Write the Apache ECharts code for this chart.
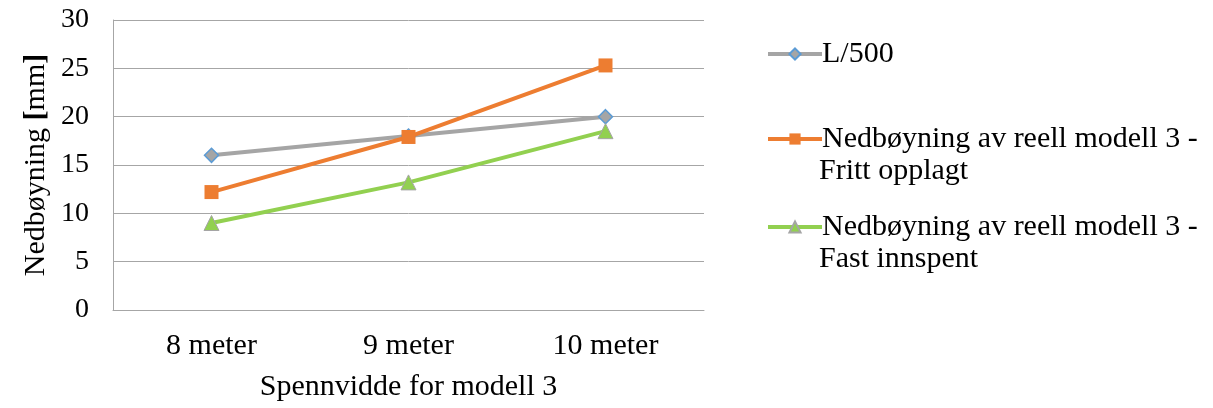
<!DOCTYPE html>
<html><head><meta charset="utf-8">
<script src="https://cdn.jsdelivr.net/npm/echarts@6/dist/echarts.min.js"></script>
<style>html,body{margin:0;padding:0;background:#fff}#c{width:1213px;height:408px}</style>
</head><body><div id="c"></div>
<script>
const categories = ['8 meter', '9 meter', '10 meter'];
const seriesNames = ['L/500', 'Nedbøyning av reell modell 3 - Fritt opplagt', 'Nedbøyning av reell modell 3 - Fast innspent'];
const legendFirstLines = ['L/500', 'Nedbøyning av reell modell 3 -', 'Nedbøyning av reell modell 3 -'];
const legendSecondLines = ['', 'Fritt opplagt', 'Fast innspent'];
const l500 = [16, 18, 20];
const frittOpplagt = [12.2, 17.9, 25.3];
const fastInnspent = [9.0, 13.2, 18.5];
const yTicks = { min: 0, max: 30, interval: 5 };
const xAxisTitle = 'Spennvidde for modell 3';
const yAxisTitle = 'Nedbøyning [mm]';

const FONT = '"Liberation Serif", "DejaVu Serif", serif';
const FS = 30;
const chart = echarts.init(document.getElementById('c'), null, { renderer: 'canvas' });
const legendTops = [34, 119, 207];
const colors = ['#a5a5a5', '#ed7d31', '#92d050'];
const legends = seriesNames.map((n, i) => ({
  data: [n], left: 761, top: legendTops[i], orient: 'vertical',
  itemWidth: 54, itemHeight: 14, itemGap: 0,
  lineStyle: { width: 4, color: colors[i] },
  textStyle: { fontFamily: FONT, fontSize: FS, color: '#000', padding: [0, 0, 0, -5] },
  formatter: () => legendFirstLines[i], selectedMode: false
}));
const graphics = legendSecondLines.map((t, i) => t ? ({
  type: 'text', left: 819, top: legendTops[i] + 37,
  style: { text: t, font: FS + 'px ' + FONT, fill: '#000' }
}) : null).filter(Boolean);
const yName = yAxisTitle.replace(/^(.*) \[(.*)\]$/, '{n|$1 }{b|[}{n|$2}{b|]}');
chart.setOption({
  animation: false,
  backgroundColor: '#fff',
  grid: { left: 113, right: 509, top: 20, bottom: 98, containLabel: false },
  legend: legends,
  graphic: graphics,
  xAxis: {
    type: 'category', data: categories, boundaryGap: true,
    name: xAxisTitle, nameLocation: 'middle', nameGap: 62,
    nameTextStyle: { fontFamily: FONT, fontSize: FS, color: '#000' },
    axisLine: { lineStyle: { color: '#a6a6a6', width: 1 } },
    axisTick: { show: false },
    axisLabel: { fontFamily: FONT, fontSize: FS, color: '#000', margin: 21 },
    splitLine: { show: false }
  },
  yAxis: {
    type: 'value', min: yTicks.min, max: yTicks.max, interval: yTicks.interval,
    name: yName, nameLocation: 'middle', nameGap: 62, nameRotate: 90,
    nameTextStyle: { fontFamily: FONT, fontSize: FS, color: '#000',
      rich: { n: { fontFamily: FONT, fontSize: FS, color: '#000' },
              b: { fontFamily: FONT, fontSize: FS, color: '#000', fontWeight: 'bold' } } },
    axisLine: { show: true, lineStyle: { color: '#a6a6a6', width: 1 } },
    axisTick: { show: false },
    axisLabel: { fontFamily: FONT, fontSize: 28, color: '#000', margin: 24 },
    splitLine: { lineStyle: { color: '#a6a6a6', width: 1 } }
  },
  series: [
    { name: seriesNames[0], type: 'line', data: l500, symbol: 'diamond', symbolSize: 14,
      lineStyle: { color: colors[0], width: 4 },
      itemStyle: { color: '#a5a5a5', borderColor: '#5b9bd5', borderWidth: 1.5 }, z: 2 },
    { name: seriesNames[1], type: 'line', data: frittOpplagt, symbol: 'rect', symbolSize: 14,
      lineStyle: { color: colors[1], width: 4 },
      itemStyle: { color: '#ed7d31', borderColor: '#ed7d31', borderWidth: 0 }, z: 3 },
    { name: seriesNames[2], type: 'line', data: fastInnspent, symbol: 'triangle', symbolSize: 15,
      lineStyle: { color: colors[2], width: 4 },
      itemStyle: { color: '#92d050', borderColor: '#a5a5a5', borderWidth: 1 }, z: 4 }
  ]
});
</script></body></html>
